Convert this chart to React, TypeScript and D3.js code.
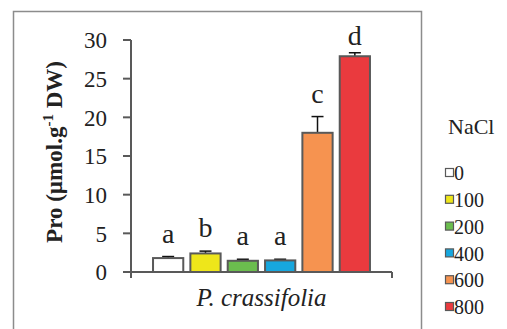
import React from "react";
import * as d3 from "d3";

// NaCl treatments (mM)
const levels = ["0", "100", "200", "400", "600", "800"];
const proValues = [1.8, 2.4, 1.45, 1.5, 18.0, 27.9];
const proErrors = [0.2, 0.3, 0.2, 0.15, 2.1, 0.45];
const letters = ["a", "b", "a", "a", "c", "d"];
const barColors = ["#ffffff", "#eee61a", "#6bbd4e", "#17a7de", "#f69350", "#ea3a3e"];
const yTicks = [0, 5, 10, 15, 20, 25, 30];
const species = "P. crassifolia";

const W = 507;
const H = 329;
const axisColor = "#595959";
const serif = { fontFamily: '"Liberation Serif", "Times New Roman", Times, "DejaVu Serif", serif' };

const App = () => {
    const y = d3.scaleLinear().domain([0, 30]).range([272, 40]);
    const x = d3
        .scaleBand()
        .domain(levels)
        .range([131, 392])
        .paddingInner(0.19)
        .paddingOuter(0.59);
    const bw = x.bandwidth();
    const x0 = x.range()[0];
    const x1 = x.range()[1];

    // legend rows
    const legY = d3.scalePoint().domain(levels).range([173, 307]);

    return (
        <svg
            width={W}
            height={H}
            style={{ position: "absolute", left: 0, top: 0, background: "#fff" }}
        >
            {/* outer chart frame */}
            <path d={`M13.5,${H} V11.5 H421.5 V${H}`} fill="none" stroke="#8c8c8c" strokeWidth={1.5} />

            {/* y axis */}
            <line x1={x0} x2={x0} y1={y(30)} y2={y(0) + 6} stroke={axisColor} strokeWidth={2} />
            {yTicks.map((t) => (
                <g key={t}>
                    <line x1={x0 - 8} x2={x0} y1={y(t)} y2={y(t)} stroke={axisColor} strokeWidth={2} />
                    <text
                        x={107}
                        y={y(t)}
                        dy="0.36em"
                        textAnchor="end"
                        style={serif}
                        fontSize={23}
                        fill="#222"
                    >
                        {t}
                    </text>
                </g>
            ))}

            {/* x axis */}
            <line x1={x0 - 8} x2={x1} y1={y(0)} y2={y(0)} stroke={axisColor} strokeWidth={2} />
            <line x1={x1} x2={x1} y1={y(0)} y2={y(0) + 6} stroke={axisColor} strokeWidth={2} />

            {/* bars */}
            {levels.map((lv, i) => {
                const bx = x(lv) as number;
                const top = y(proValues[i]);
                const errTop = y(proValues[i] + proErrors[i]);
                const cx = bx + bw / 2;
                const ly = Math.max(y(29.3), errTop - 14);
                return (
                    <g key={lv}>
                        <line x1={cx} x2={cx} y1={top} y2={errTop} stroke="#111" strokeWidth={1.5} />
                        <line x1={cx - 6} x2={cx + 6} y1={errTop} y2={errTop} stroke="#111" strokeWidth={1.5} />
                        <rect
                            x={bx}
                            y={top}
                            width={bw}
                            height={y(0) - top}
                            fill={barColors[i]}
                            stroke={axisColor}
                            strokeWidth={2}
                        />
                        <text
                            x={cx}
                            y={ly}
                            textAnchor="middle"
                            style={serif}
                            fontSize={28}
                            fill="#222"
                        >
                            {letters[i]}
                        </text>
                    </g>
                );
            })}

            {/* category label */}
            <text
                x={(x0 + x1) / 2}
                y={306}
                textAnchor="middle"
                style={serif}
                fontStyle="italic"
                fontSize={25}
                fill="#222"
            >
                {species}
            </text>

            {/* y axis title */}
            <text
                transform="translate(62,152) rotate(-90)"
                textAnchor="middle"
                style={serif}
                fontWeight="bold"
                fontSize={23}
                fill="#222"
            >
                Pro (µmol.g
                <tspan fontSize={15} dy={-9}>-1</tspan>
                <tspan dy={9}> DW)</tspan>
            </text>

            {/* legend */}
            <text x={448} y={134} style={serif} fontSize={22} fill="#222">
                NaCl
            </text>
            {levels.map((lv, i) => (
                <g key={lv}>
                    <rect
                        x={445.5}
                        y={(legY(lv) as number) - 4.5}
                        width={8}
                        height={8}
                        fill={barColors[i]}
                        stroke={axisColor}
                        strokeWidth={1.2}
                    />
                    <text
                        x={454}
                        y={legY(lv) as number}
                        dy="0.36em"
                        style={serif}
                        fontSize={20}
                        fill="#222"
                    >
                        {lv}
                    </text>
                </g>
            ))}
        </svg>
    );
};

export default App;
